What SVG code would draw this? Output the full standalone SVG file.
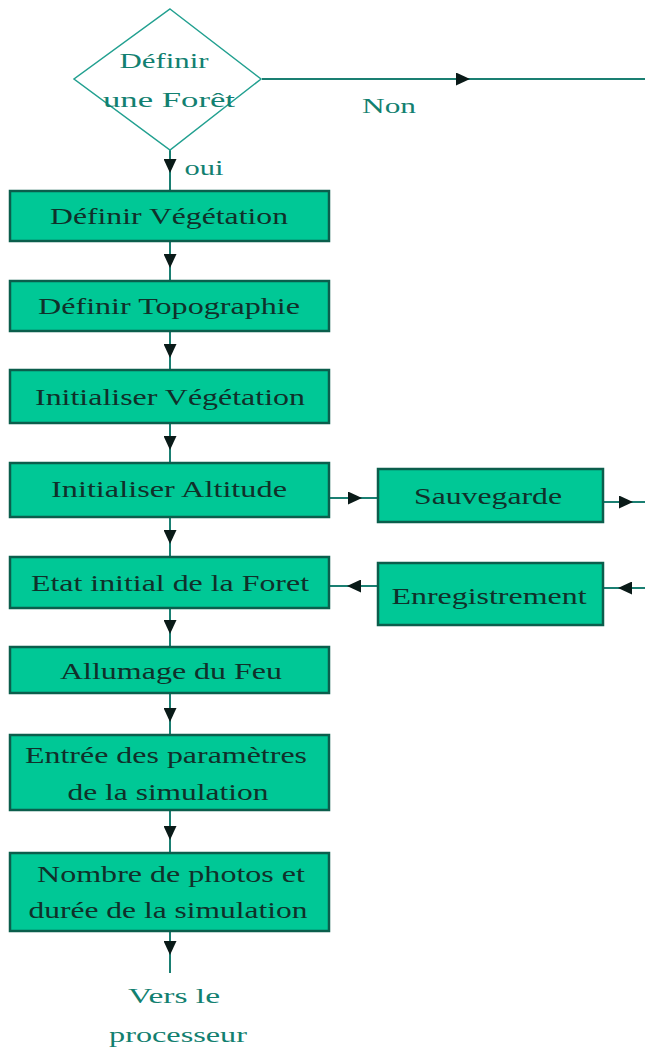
<svg xmlns="http://www.w3.org/2000/svg" width="645" height="1053" viewBox="0 0 645 1053">
<style>
.box{fill:#00C896;stroke:#0B5E4C;stroke-width:2.5}
.bt{font-family:"Liberation Serif",serif;font-size:22.5px;fill:#10302A;text-anchor:middle}
.tt{font-family:"Liberation Serif",serif;font-size:22px;fill:#128070;text-anchor:middle}
.ln{fill:none;stroke:#1A7F72;stroke-width:2;marker-mid:url(#ah)}
.dia{fill:#fff;stroke:#22A090;stroke-width:1.5}
</style>
<defs>
<marker id="ah" markerUnits="userSpaceOnUse" markerWidth="14" markerHeight="13" refX="14" refY="6.5" orient="auto">
<path d="M0,0 L14,6.5 L0,13 z" fill="#0A1A18"/>
</marker>
</defs>
<rect width="645" height="1053" fill="#fff"/>
<g id="connectors">
<path class="ln" d="M262,79 L470,79 L645,79"/>
<path class="ln" d="M170,150 L170,173 L170,191"/>
<path class="ln" d="M170,241 L170,268 L170,281"/>
<path class="ln" d="M170,331 L170,358 L170,370"/>
<path class="ln" d="M170,423 L170,450 L170,463"/>
<path class="ln" d="M170,517 L170,544 L170,557"/>
<path class="ln" d="M170,608 L170,634 L170,647"/>
<path class="ln" d="M170,693 L170,722 L170,735"/>
<path class="ln" d="M170,810 L170,840 L170,853"/>
<path class="ln" d="M170,931 L170,955 L170,973"/>
<path class="ln" d="M329,498 L362,498 L378,498"/>
<path class="ln" d="M603,502 L633,502 L645,502"/>
<path class="ln" d="M645,588 L618,588 L603,588"/>
<path class="ln" d="M378,586 L347,586 L329,586"/>
<text class="tt" x="389" y="113" textLength="54" lengthAdjust="spacingAndGlyphs">Non</text>
<text class="tt" x="204" y="175" textLength="39" lengthAdjust="spacingAndGlyphs">oui</text>
</g>
<g id="n-decision">
<polygon class="dia" points="170,9 261,79 170,150 74,79"/>
<text class="tt" x="164" y="68" textLength="89" lengthAdjust="spacingAndGlyphs">Définir</text>
<text class="tt" x="169" y="107" textLength="132" lengthAdjust="spacingAndGlyphs">une Forêt</text>
</g>
<g id="n-def-veg">
<rect class="box" x="10" y="191" width="319" height="50"/>
<text class="bt" x="169" y="224" textLength="238" lengthAdjust="spacingAndGlyphs">Définir Végétation</text>
</g>
<g id="n-def-topo">
<rect class="box" x="10" y="281" width="319" height="50"/>
<text class="bt" x="169" y="314" textLength="262" lengthAdjust="spacingAndGlyphs">Définir Topographie</text>
</g>
<g id="n-init-veg">
<rect class="box" x="10" y="370" width="319" height="53"/>
<text class="bt" x="170" y="405" textLength="270" lengthAdjust="spacingAndGlyphs">Initialiser Végétation</text>
</g>
<g id="n-init-alt">
<rect class="box" x="10" y="463" width="319" height="54"/>
<text class="bt" x="169" y="497" textLength="236" lengthAdjust="spacingAndGlyphs">Initialiser Altitude</text>
</g>
<g id="n-etat">
<rect class="box" x="10" y="557" width="319" height="51"/>
<text class="bt" x="170" y="591" textLength="278" lengthAdjust="spacingAndGlyphs">Etat initial de la Foret</text>
</g>
<g id="n-allumage">
<rect class="box" x="10" y="647" width="319" height="46"/>
<text class="bt" x="171" y="679" textLength="222" lengthAdjust="spacingAndGlyphs">Allumage du Feu</text>
</g>
<g id="n-entree">
<rect class="box" x="10" y="735" width="319" height="75"/>
<text class="bt" x="166" y="763" textLength="282" lengthAdjust="spacingAndGlyphs">Entrée des paramètres</text>
<text class="bt" x="168" y="800" textLength="201" lengthAdjust="spacingAndGlyphs">de la simulation</text>
</g>
<g id="n-nombre">
<rect class="box" x="10" y="853" width="319" height="78"/>
<text class="bt" x="171" y="882" textLength="268" lengthAdjust="spacingAndGlyphs">Nombre de photos et</text>
<text class="bt" x="168" y="918" textLength="279" lengthAdjust="spacingAndGlyphs">durée de la simulation</text>
</g>
<g id="n-sauvegarde">
<rect class="box" x="378" y="469" width="225" height="53"/>
<text class="bt" x="488" y="504" textLength="148" lengthAdjust="spacingAndGlyphs">Sauvegarde</text>
</g>
<g id="n-enregistrement">
<rect class="box" x="378" y="563" width="225" height="62"/>
<text class="bt" x="489" y="604" textLength="195" lengthAdjust="spacingAndGlyphs">Enregistrement</text>
</g>
<g id="n-processeur">
<text class="tt" x="174" y="1003" textLength="92" lengthAdjust="spacingAndGlyphs">Vers le</text>
<text class="tt" x="178" y="1042" textLength="138" lengthAdjust="spacingAndGlyphs">processeur</text>
</g>
</svg>
